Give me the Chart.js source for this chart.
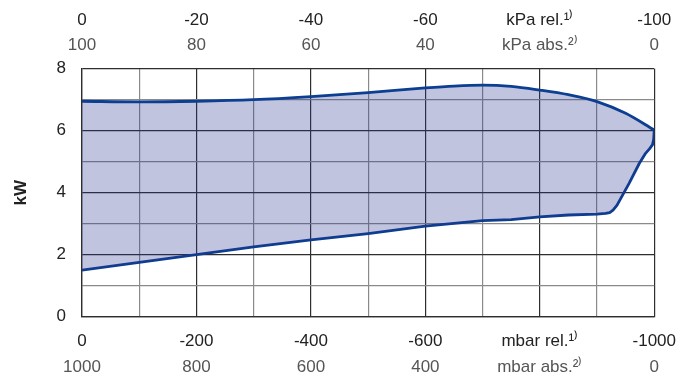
<!DOCTYPE html>
<html>
<head>
<meta charset="utf-8">
<script src="https://cdn.jsdelivr.net/npm/chart.js@4/dist/chart.umd.min.js"></script>
<style>
  html, body { margin: 0; padding: 0; background: #fff; }
  #wrap { width: 690px; height: 378px; position: relative; }
</style>
</head>
<body>
<div id="wrap"><canvas id="c" width="690" height="378"></canvas></div>
<script>
// Pressure positions of the labelled ticks (mbar rel.)
const mbarTicks = [0, -200, -400, -600, -800, -1000];
const mbarRelLabels = ['0', '-200', '-400', '-600', 'mbar rel.¹⁾', '-1000'];
const mbarAbsLabels = ['1000', '800', '600', '400', 'mbar abs.²⁾', '0'];
const kpaRelLabels = ['0', '-20', '-40', '-60', 'kPa rel.¹⁾', '-100'];
const kpaAbsLabels = ['100', '80', '60', '40', 'kPa abs.²⁾', '0'];
const kwTicks = [0, 2, 4, 6, 8];

// Upper power limit (mbar rel. -> kW)
const upperP  = [0, -100, -200, -300, -400, -500, -600, -650, -700, -750, -800, -850, -900, -950, -1000];
const upperKW = [6.95, 6.93, 6.95, 7.0, 7.1, 7.23, 7.38, 7.44, 7.47, 7.43, 7.31, 7.16, 6.94, 6.56, 6.02];

// Lower power limit (mbar rel. -> kW)
const lowerP  = [0, -100, -200, -300, -400, -500, -600, -700, -750, -800, -850, -900, -915, -922, -928, -935, -956, -974, -984, -992, -997, -999, -1000];
const lowerKW = [1.5, 1.75, 2.0, 2.25, 2.48, 2.68, 2.92, 3.1, 3.13, 3.22, 3.28, 3.31, 3.33, 3.36, 3.44, 3.6, 4.3, 4.95, 5.25, 5.42, 5.55, 5.72, 6.02];

const toPoints = (xs, ys) => xs.map((x, i) => ({ x: x, y: ys[i] }));

const FONT = "'Liberation Sans', Arial, Helvetica, sans-serif";
const FS = 17;
const DARK = '#222222';
const GREY = '#555555';
const LINE = 'rgb(12, 62, 145)';

const labelFrom = (labels) => (v) => {
  const i = mbarTicks.indexOf(v);
  return i >= 0 ? labels[i] : '';
};

const gridColor = (step) => (ctx) => {
  const v = ctx.tick ? ctx.tick.value : 0;
  return (Math.round(v) % step === 0) ? '#2e2e2e' : '#8a8a8a';
};

const fixHeight = (h) => (scale) => { scale.height = h; };

const xBase = {
  type: 'linear',
  min: -1000,
  max: 0,
  reverse: true,
  border: { display: false },
};

new Chart(document.getElementById('c'), {
  type: 'line',
  data: {
    datasets: [
      {
        data: toPoints(upperP, upperKW),
        borderColor: LINE,
        borderWidth: 2.8,
        backgroundColor: 'rgba(40, 50, 140, 0.29)',
        fill: '+1',
        pointRadius: 0,
        cubicInterpolationMode: 'monotone',
      },
      {
        data: toPoints(lowerP, lowerKW),
        borderColor: LINE,
        borderWidth: 2.8,
        borderJoinStyle: 'round',
        fill: false,
        pointRadius: 0,
        tension: 0,
      },
    ],
  },
  options: {
    responsive: false,
    animation: false,
    events: [],
    layout: { padding: { left: 0, right: 35, top: 0, bottom: 0 } },
    plugins: { legend: { display: false }, tooltip: { enabled: false } },
    scales: {
      x: Object.assign({}, xBase, {
        position: 'bottom',
        weight: 0,
        border: { display: true, color: '#2e2e2e', width: 1.3 },
        grid: { color: gridColor(200), lineWidth: 1.2, drawTicks: false },
        ticks: {
          stepSize: 100, autoSkip: false, maxRotation: 0, padding: 14,
          color: DARK, font: { family: FONT, size: FS },
          callback: labelFrom(mbarRelLabels),
        },
        afterFit: fixHeight(35),
      }),
      xAbs: Object.assign({}, xBase, {
        position: 'bottom',
        weight: 1,
        grid: { display: false, drawTicks: false },
        ticks: {
          stepSize: 200, autoSkip: false, maxRotation: 0, padding: 5.5,
          color: GREY, font: { family: FONT, size: FS },
          callback: labelFrom(mbarAbsLabels),
        },
        afterFit: fixHeight(26.3),
      }),
      xTopAbs: Object.assign({}, xBase, {
        position: 'top',
        weight: 0,
        grid: { display: false, drawTicks: false },
        ticks: {
          stepSize: 200, autoSkip: false, maxRotation: 0, padding: 13.2,
          color: GREY, font: { family: FONT, size: FS },
          callback: labelFrom(kpaAbsLabels),
        },
        afterFit: fixHeight(33.6),
      }),
      xTopRel: Object.assign({}, xBase, {
        position: 'top',
        weight: 1,
        grid: { display: false, drawTicks: false },
        ticks: {
          stepSize: 200, autoSkip: false, maxRotation: 0, padding: 4.4,
          color: DARK, font: { family: FONT, size: FS },
          callback: labelFrom(kpaRelLabels),
        },
        afterFit: fixHeight(35.1),
      }),
      y: {
        type: 'linear',
        min: 0,
        max: 8,
        border: { display: true, color: '#2e2e2e', width: 1.3 },
        grid: { color: gridColor(2), lineWidth: 1.2, drawTicks: false },
        ticks: {
          stepSize: 1, autoSkip: false, padding: 16,
          color: DARK, font: { family: FONT, size: FS },
          callback: (v) => (kwTicks.indexOf(v) >= 0 ? String(v) : ''),
        },
        title: {
          display: true, text: 'kW', color: DARK,
          font: { family: FONT, size: FS, weight: 'bold' },
          padding: { top: 11, bottom: 0 },
        },
        afterFit: (scale) => { scale.width = 82; },
      },
    },
  },
});
</script>
</body>
</html>
